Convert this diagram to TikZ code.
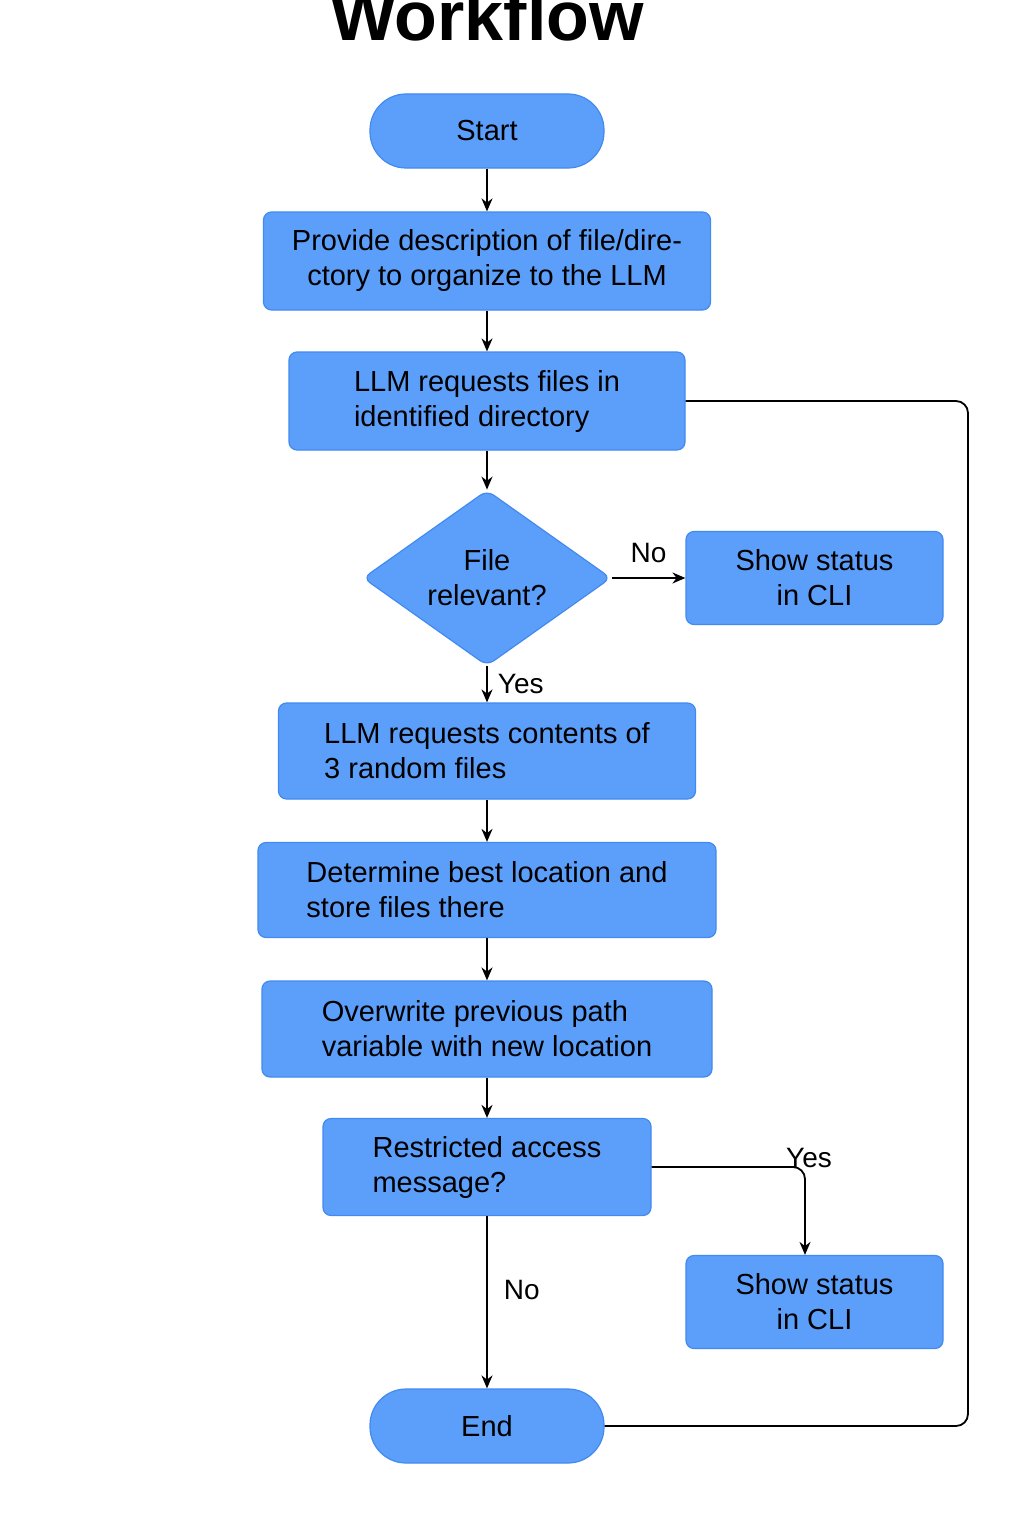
\documentclass[tikz,border=0pt]{standalone}
\usepackage{fontspec}
\setmainfont{Liberation Sans}
\usetikzlibrary{shapes.geometric,arrows.meta}
\definecolor{boxblue}{RGB}{91,159,250}
\definecolor{boxline}{RGB}{66,138,240}
\begin{document}
\begin{tikzpicture}[x=0.5pt,y=-0.5pt,
    box/.style={draw=boxline,fill=boxblue,line width=0.6pt,rounded corners=4pt,align=left,inner sep=0pt,
      font=\fontsize{14.5}{17.5}\selectfont},
    term/.style={box,align=center,rounded corners=18pt,minimum width=117pt,minimum height=37pt},
    status/.style={box,align=center,minimum width=128.5pt,minimum height=46.5pt},
    decide/.style={box,diamond,align=center,minimum width=124pt,minimum height=82.5pt},
    arr/.style={line width=0.9pt,-{Stealth[length=6.5pt,width=5.5pt]}},
    lbl/.style={font=\fontsize{14}{17}\selectfont,inner sep=0pt}]
  \useasboundingbox (0,0) rectangle (1024,1536);
  % title
  \node[anchor=base,font=\bfseries\fontsize{35}{35}\selectfont] (title) at (487,41) {Workflow};
  % main column
  \node[term] (start) at (487,131) {Start};
  \node[box,align=center,minimum width=223.5pt,minimum height=49pt] (desc) at (487,261) {Provide description of file/dire-\\ctory to organize to the LLM};
  \node[box,minimum width=198pt,minimum height=49pt] (list) at (487,401) {LLM requests files in\\identified directory};
  \node[decide] (rel) at (487,578) {File\\relevant?};
  \node[status] (stat1) at (814.5,578) {Show status\\in CLI};
  \node[box,minimum width=208.5pt,minimum height=48pt] (cont) at (487,751) {LLM requests contents of\\3 random files};
  \node[box,minimum width=229pt,minimum height=47.5pt] (loc) at (487,890) {Determine best location and\\store files there};
  \node[box,minimum width=225pt,minimum height=48pt] (path) at (487,1029) {Overwrite previous path\\variable with new location};
  \node[box,minimum width=164pt,minimum height=48.5pt] (restr) at (487,1167) {Restricted access\\message?};
  \node[status] (stat2) at (814.5,1302) {Show status\\in CLI};
  \node[term] (stop) at (487,1426) {End};
  \coordinate (loopx) at (968,0);
  \coordinate (yesx) at (805,0);
  % connectors
  \draw[arr] (start) -- (desc);
  \draw[arr] (desc) -- (list);
  \draw[arr] (list) -- (rel);
  \draw[arr] (rel.east) -- node[lbl,above=7pt] {No} (stat1.west);
  \draw[arr] (rel.south) -- node[lbl,right=5pt] {Yes} (cont.north);
  \draw[arr] (cont) -- (loc);
  \draw[arr] (loc) -- (path);
  \draw[arr] (path) -- (restr);
  \draw[arr,rounded corners=6pt] (restr.east) -| node[lbl,pos=0.5,anchor=south,xshift=2pt,yshift=-1pt] {Yes} (yesx |- stat2.north);
  \draw[arr] (restr.south) -- node[lbl,right=8pt,yshift=6pt] {No} (stop.north);
  \draw[line width=0.9pt,rounded corners=6pt] (list.east) -| (loopx |- stop.east) -- (stop.east);
\end{tikzpicture}
\end{document}
